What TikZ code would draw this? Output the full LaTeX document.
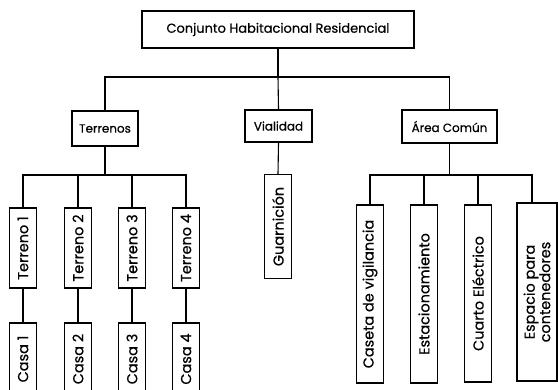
\documentclass[tikz,border=0pt]{standalone}
\usepackage{fontspec}
\setmainfont{Poppins}[FakeBold=0.6]
\begin{document}
\begin{tikzpicture}[x=1bp,y=-1bp,
  box/.style={draw, line width=1.3bp, inner sep=1bp, align=center},
  hbox/.style={box, font=\fontsize{12}{13}\selectfont},
  vbox/.style={box, rotate=90, minimum height=27bp, font=\fontsize{14.5}{14}\selectfont},
  conn/.style={line width=1.1bp}]
\useasboundingbox (0,0) rectangle (558,389);
\clip (0,0) rectangle (558,389);
% level 0 and 1
\node[hbox, minimum width=272bp, minimum height=37bp, font=\fontsize{13}{14}\selectfont] (root) at (278,29.5) {Conjunto Habitacional Residencial};
\node[hbox, minimum width=66bp, minimum height=35bp] (ter) at (105,128.5) {Terrenos};
\node[hbox, minimum width=67bp, minimum height=32bp] (via) at (278.5,126) {Vialidad};
\node[hbox, minimum width=95bp, minimum height=33bp] (area) at (449.5,126.5) {Área Común};
% Terrenos children
\node[vbox, minimum width=80bp] (t1) at (23,248) {Terreno 1};
\node[vbox, minimum width=80bp] (t2) at (78,248) {Terreno 2};
\node[vbox, minimum width=80bp] (t3) at (132,248) {Terreno 3};
\node[vbox, minimum width=80bp] (t4) at (186,248) {Terreno 4};
\node[vbox, minimum width=72bp] (c1) at (23,359) {Casa 1};
\node[vbox, minimum width=72bp] (c2) at (78,359) {Casa 2};
\node[vbox, minimum width=72bp] (c3) at (132,359) {Casa 3};
\node[vbox, minimum width=72bp] (c4) at (186,359) {Casa 4};
% Vialidad child
\node[vbox, minimum width=104bp] (gua) at (278,226.5) {Guarnición};
% Area Comun children
\node[vbox, minimum width=178bp] (cas) at (370,294) {Caseta de vigilancia};
\node[vbox, minimum width=178bp] (est) at (424,294) {Estacionamiento};
\node[vbox, minimum width=177bp] (cua) at (478,293.5) {Cuarto Eléctrico};
\node[vbox, minimum width=178bp, minimum height=40bp] (esp) at (537,292) {Espacio para\\contenedores};
% connectors
\coordinate (bar0) at (278,77);
\coordinate (bar1) at (105,175);
\coordinate (bar2) at (450,175);
\coordinate (espin) at ([xshift=-5bp]esp.east);
\draw[conn] (root.south) -- (bar0);
\draw[conn] (ter.north) |- (bar0) -| (area.north);
\draw[conn] (bar0) -- (via.north);
\draw[conn] (ter.south) -- (ter.south |- bar1);
\draw[conn] (t1.east) |- (bar1) -| (t4.east);
\draw[conn] (t2.east) -- (t2.east |- bar1);
\draw[conn] (t3.east) -- (t3.east |- bar1);
\draw[conn] (t1.west) -- (c1.east);
\draw[conn] (t2.west) -- (c2.east);
\draw[conn] (t3.west) -- (c3.east);
\draw[conn] (t4.west) -- (c4.east);
\draw[conn] (via.south) -- (gua.east);
\draw[conn] (area.south) -- (area.south |- bar2);
\draw[conn] (cas.east) |- (bar2) -| (espin);
\draw[conn] (est.east) -- (est.east |- bar2);
\draw[conn] (cua.east) -- (cua.east |- bar2);
\end{tikzpicture}
\end{document}
